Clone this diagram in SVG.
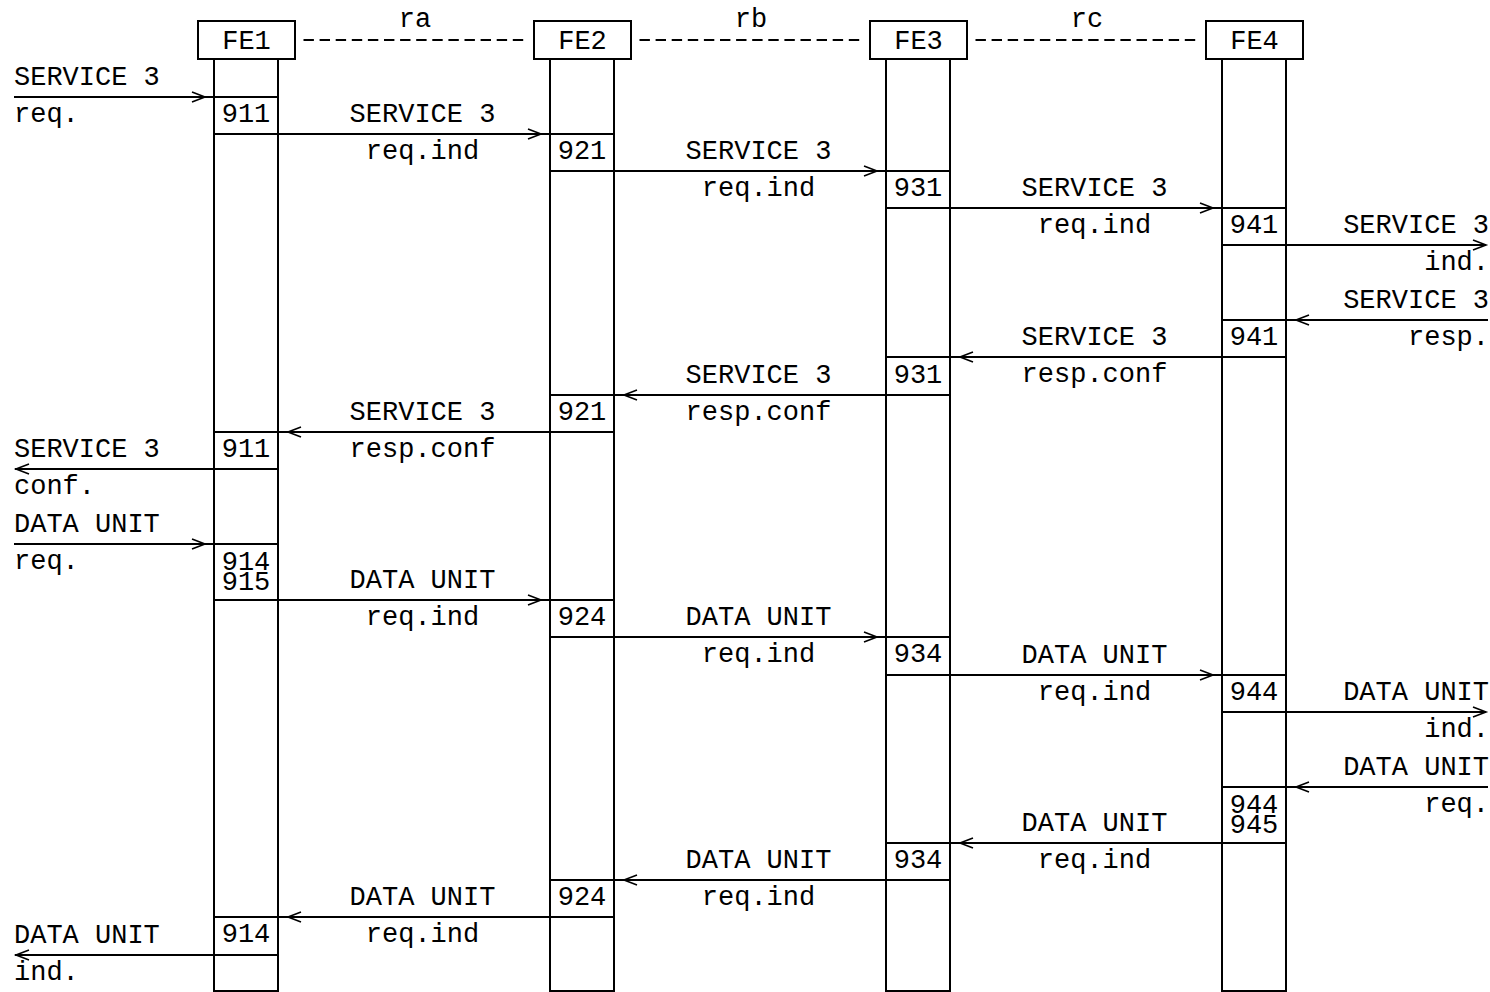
<svg xmlns="http://www.w3.org/2000/svg" width="1490" height="992" viewBox="0 0 1490 992">
<style>
text{font-family:"Liberation Mono","Courier New",monospace;font-size:27px;fill:#000}
.c{text-anchor:middle}
.e{text-anchor:end}
.box,.life{fill:none;stroke:#000;stroke-width:2}
.box{fill:#fff}
.ln{stroke:#000;stroke-width:2;fill:none}
.ah{stroke:#000;stroke-width:1.6;fill:none}
.dash{stroke:#000;stroke-width:2;stroke-dasharray:10.4 5.7;fill:none}
</style>
<rect width="1490" height="992" fill="#fff"/>
<g id="FE1">
<rect class="life" x="214" y="59" width="64" height="932"/>
<rect class="box" x="198" y="21" width="97" height="38"/>
<text class="c" x="246.5" y="49">FE1</text>
<text class="c" x="246" y="122">911</text>
<text class="c" x="246" y="457">911</text>
<text class="c" x="246" y="570">914</text>
<text class="c" x="246" y="590">915</text>
<text class="c" x="246" y="942">914</text>
</g>
<g id="FE2">
<rect class="life" x="550" y="59" width="64" height="932"/>
<rect class="box" x="534" y="21" width="97" height="38"/>
<text class="c" x="582.5" y="49">FE2</text>
<text class="c" x="582" y="159">921</text>
<text class="c" x="582" y="420">921</text>
<text class="c" x="582" y="625">924</text>
<text class="c" x="582" y="905">924</text>
</g>
<g id="FE3">
<rect class="life" x="886" y="59" width="64" height="932"/>
<rect class="box" x="870" y="21" width="97" height="38"/>
<text class="c" x="918.5" y="49">FE3</text>
<text class="c" x="918" y="196">931</text>
<text class="c" x="918" y="383">931</text>
<text class="c" x="918" y="662">934</text>
<text class="c" x="918" y="868">934</text>
</g>
<g id="FE4">
<rect class="life" x="1222" y="59" width="64" height="932"/>
<rect class="box" x="1206" y="21" width="97" height="38"/>
<text class="c" x="1254.5" y="49">FE4</text>
<text class="c" x="1254" y="233">941</text>
<text class="c" x="1254" y="345">941</text>
<text class="c" x="1254" y="700">944</text>
<text class="c" x="1254" y="813">944</text>
<text class="c" x="1254" y="833">945</text>
</g>
<g id="connectors">
<path class="dash" d="M303.5 40H523.5M639.5 40H859.5M975.5 40H1195.5"/>
<text class="c" x="415" y="27">ra</text>
<text class="c" x="751" y="27">rb</text>
<text class="c" x="1087" y="27">rc</text>
<!-- lines -->
<path class="ln" d="M14 97H278M214 134H614M550 171H950M886 208H1286M1222 245H1486M1222 320H1488M1286 357H886M950 395H550M614 432H214M278 469H15M14 544H278M214 600H614M550 637H950M886 675H1286M1222 712H1486M1222 787H1488M1286 843H886M950 880H550M614 917H214M278 955H15"/>
<!-- arrowheads -->
<path class="ah" d="M192 92L205 97L192 102M528 129L541 134L528 139M864 166L877 171L864 176M1200 203L1213 208L1200 213M1473 240L1486 245L1473 250M1309 315L1296 320L1309 325M973 352L960 357L973 362M637 390L624 395L637 400M301 427L288 432L301 437M29 464L16 469L29 474M192 539L205 544L192 549M528 595L541 600L528 605M864 632L877 637L864 642M1200 670L1213 675L1200 680M1473 707L1486 712L1473 717M1309 782L1296 787L1309 792M973 838L960 843L973 848M637 875L624 880L637 885M301 912L288 917L301 922M29 950L16 955L29 960"/>
<!-- labels -->
<text x="14" y="85">SERVICE 3</text>
<text x="14" y="122">req.</text>
<text class="c" x="422.5" y="122">SERVICE 3</text>
<text class="c" x="422.5" y="159">req.ind</text>
<text class="c" x="758.5" y="159">SERVICE 3</text>
<text class="c" x="758.5" y="196">req.ind</text>
<text class="c" x="1094.5" y="196">SERVICE 3</text>
<text class="c" x="1094.5" y="233">req.ind</text>
<text class="e" x="1489" y="233">SERVICE 3</text>
<text class="e" x="1489" y="270">ind.</text>
<text class="e" x="1489" y="308">SERVICE 3</text>
<text class="e" x="1489" y="345">resp.</text>
<text class="c" x="1094.5" y="345">SERVICE 3</text>
<text class="c" x="1094.5" y="382">resp.conf</text>
<text class="c" x="758.5" y="383">SERVICE 3</text>
<text class="c" x="758.5" y="420">resp.conf</text>
<text class="c" x="422.5" y="420">SERVICE 3</text>
<text class="c" x="422.5" y="457">resp.conf</text>
<text x="14" y="457">SERVICE 3</text>
<text x="14" y="494">conf.</text>
<text x="14" y="532">DATA UNIT</text>
<text x="14" y="569">req.</text>
<text class="c" x="422.5" y="588">DATA UNIT</text>
<text class="c" x="422.5" y="625">req.ind</text>
<text class="c" x="758.5" y="625">DATA UNIT</text>
<text class="c" x="758.5" y="662">req.ind</text>
<text class="c" x="1094.5" y="663">DATA UNIT</text>
<text class="c" x="1094.5" y="700">req.ind</text>
<text class="e" x="1489" y="700">DATA UNIT</text>
<text class="e" x="1489" y="737">ind.</text>
<text class="e" x="1489" y="775">DATA UNIT</text>
<text class="e" x="1489" y="812">req.</text>
<text class="c" x="1094.5" y="831">DATA UNIT</text>
<text class="c" x="1094.5" y="868">req.ind</text>
<text class="c" x="758.5" y="868">DATA UNIT</text>
<text class="c" x="758.5" y="905">req.ind</text>
<text class="c" x="422.5" y="905">DATA UNIT</text>
<text class="c" x="422.5" y="942">req.ind</text>
<text x="14" y="943">DATA UNIT</text>
<text x="14" y="980">ind.</text>
</g>
</svg>
